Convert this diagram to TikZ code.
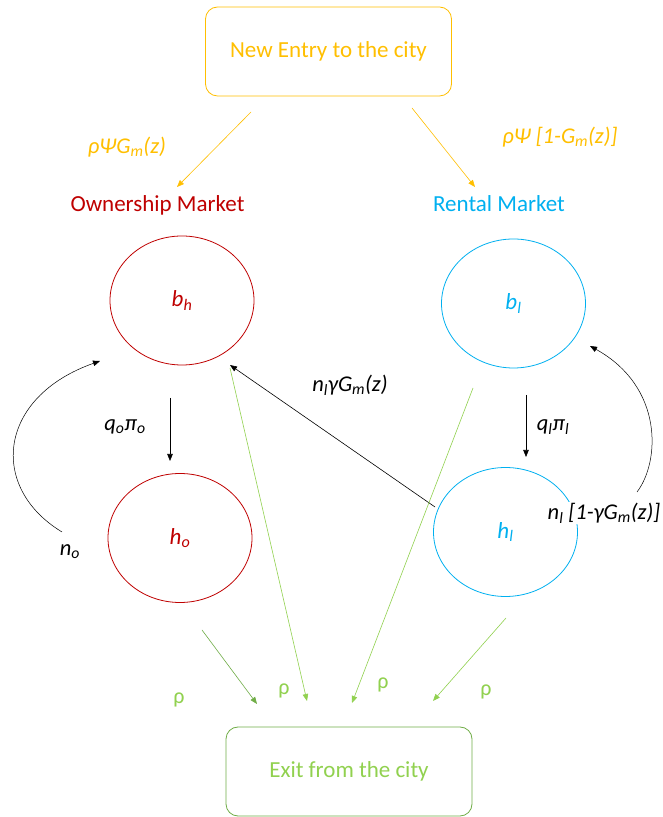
\documentclass[tikz,border=0pt]{standalone}
\usepackage{fontspec}
\setmainfont{Carlito}
\usetikzlibrary{arrows.meta,shapes.geometric}

\begin{document}
\begin{tikzpicture}[x=1pt,y=1pt,
  flowbox/.style={draw=#1,text=#1,rounded corners=12pt,line width=0.8pt,minimum width=246pt,minimum height=89pt,inner sep=0pt,font=\fontsize{23}{27}\selectfont},
  stock/.style={draw=#1,text=#1,ellipse,line width=0.8pt,minimum width=144pt,minimum height=129pt,inner sep=0pt,font=\itshape\fontsize{23}{27}\selectfont},
  marketlab/.style={text=#1,inner sep=0pt,font=\fontsize{23}{27}\selectfont},
  ratelab/.style={text=#1,inner sep=1pt,font=\itshape\fontsize{22.5}{27}\selectfont},
  rholab/.style={text=#1,inner sep=0pt,font=\fontsize{22}{26}\selectfont},
  flow/.style={draw=#1,line width=0.6pt,-{Triangle[length=7pt,width=5.5pt]}}]
\definecolor[named]{entryColor}{rgb}{1.00,0.75,0.00}
\definecolor[named]{ownColor}{rgb}{0.75,0.00,0.00}
\definecolor[named]{rentColor}{rgb}{0.00,0.69,0.94}
\definecolor[named]{exitColor}{rgb}{0.57,0.82,0.31}
\definecolor[named]{exitLine}{rgb}{0.44,0.68,0.28}
\definecolor[named]{drawColor}{rgb}{0.00,0.00,0.00}
\path[use as bounding box,fill=white] (0,0) rectangle (662,817);

% entry and exit
\node[flowbox=entryColor] (entry) at (328.5,765.5) {New Entry to the city};

\node[flowbox=exitColor,draw=exitLine] (exit) at (349,45.5) {Exit from the city};

% markets
\node[marketlab=ownColor] (own) at (157.5,612) {Ownership Market};

\node[marketlab=rentColor] (rent) at (499,613) {Rental Market};

\node[stock=ownColor] (bh) at (182,516.5) {b\textsubscript{h}};

\node[stock=ownColor] (ho) at (180,279) {h\textsubscript{o}};

\node[stock=rentColor] (bl) at (513.5,513.5) {b\textsubscript{l}};

\node[stock=rentColor] (hl) at (505.5,285) {h\textsubscript{l}};

% rates
\node[ratelab=entryColor] (ownin) at (127,670) {ρΨG\textsubscript{m}(z)};

\node[ratelab=entryColor] (rentin) at (560,680) {ρΨ [1-G\textsubscript{m}(z)]};

\node[ratelab=drawColor] (qo) at (125,390) {q\textsubscript{o}π\textsubscript{o}};

\node[ratelab=drawColor] (ql) at (553,390) {q\textsubscript{l}π\textsubscript{l}};

\node[ratelab=drawColor] (no) at (70,265) {n\textsubscript{o}};

\node[ratelab=drawColor] (nlbuy) at (350,432) {n\textsubscript{l}γG\textsubscript{m}(z)};

\node[ratelab=drawColor,fill=white] (nlstay) at (604,304) {n\textsubscript{l} [1-γG\textsubscript{m}(z)]};

\node[rholab=exitColor] (rho1) at (179,117) {ρ};

\node[rholab=exitColor] (rho2) at (284,126) {ρ};

\node[rholab=exitColor] (rho3) at (383,132) {ρ};

\node[rholab=exitColor] (rho4) at (486,125) {ρ};

% arrow ends
\coordinate (entryL) at (251,705);
\coordinate (ownT) at (177,630);
\coordinate (entryR) at (412,709);
\coordinate (rentT) at (475,630);
\coordinate (bhB) at (170,419);
\coordinate (hoT) at (170,356);
\coordinate (blB) at (526,422);
\coordinate (hlT) at (526,360);
\coordinate (hoL) at (62,285);
\coordinate (bhL) at (100,456);
\coordinate (hlR) at (637,325);
\coordinate (blR) at (590,471);
\coordinate (hlW) at (435,310);
\coordinate (bhSE) at (230,452);
\coordinate (bhG) at (230,449);
\coordinate (blG) at (473,429);
\coordinate (hoG) at (202,187);
\coordinate (hlG) at (506,199);
\coordinate (exit1) at (257,113);
\coordinate (exit2) at (307,116);
\coordinate (exit3) at (352,114);
\coordinate (exit4) at (433,116);

% flows
\path[flow=entryColor] (entryL) -- (ownT);

\path[flow=entryColor] (entryR) -- (rentT);

\path[flow=drawColor] (bhB) -- (hoT);

\path[flow=drawColor] (blB) -- (hlT);

\path[flow=drawColor,line width=0.5pt] (hoL) .. controls (-12,330) and (-2,420) .. (bhL);

\path[flow=drawColor,line width=0.5pt] (hlR) .. controls (660,355) and (664,430) .. (blR);

\path[flow=drawColor] (hlW) -- (bhSE);

\path[flow=exitLine] (hoG) -- (exit1);

\path[flow=exitColor] (bhG) -- (exit2);

\path[flow=exitColor] (blG) -- (exit3);

\path[flow=exitColor] (hlG) -- (exit4);
\end{tikzpicture}
\end{document}
